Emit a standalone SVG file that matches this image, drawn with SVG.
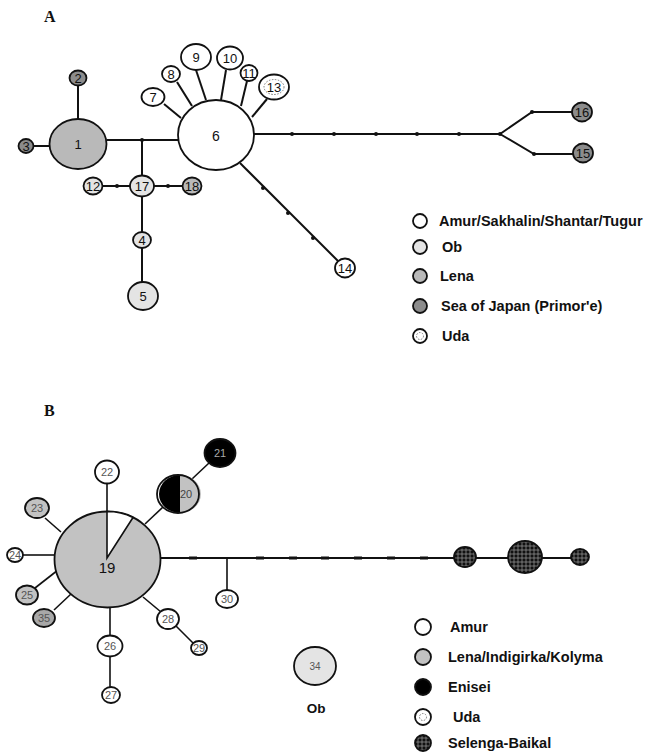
<svg xmlns="http://www.w3.org/2000/svg" width="650" height="755" viewBox="0 0 650 755">
<style>
.ln{stroke:#111;stroke-width:2;fill:none}
.lt{stroke:#111;stroke-width:1.6;fill:none}
.nd{stroke:#111;stroke-width:1.8}
.w{fill:#fff}.ob{fill:#e4e4e4}.le{fill:#b9b9b9}.sj{fill:#8c8c8c}.lb{fill:#c2c2c2}.bk{fill:#000}
.sb{fill:url(#chk)}
.t{font-family:"Liberation Sans",Arial,sans-serif;font-size:13px;fill:#111;text-anchor:middle}
.ts{font-family:"Liberation Sans",Arial,sans-serif;font-size:11px;fill:#555;text-anchor:middle}
.lg{font-family:"Liberation Sans",Arial,sans-serif;font-size:14.5px;font-weight:bold;fill:#111}
.pl{font-family:"Liberation Serif","Times New Roman",serif;font-size:16px;font-weight:bold;fill:#111}
.dot{fill:#111}
.udo{fill:none;stroke:#777;stroke-width:1;stroke-dasharray:1.5 1.5}
</style>
<defs>
<pattern id="chk" width="4" height="4" patternUnits="userSpaceOnUse">
<rect width="4" height="4" fill="#111"/>
<path d="M0 2H4M2 0V4" stroke="#9a9a9a" stroke-width="0.7"/>
</pattern>
</defs>
<text class="pl" x="44" y="22">A</text>
<text class="pl" x="44" y="416">B</text>
<g id="connectors">
<line class="ln" x1="78" y1="85" x2="78" y2="119"/>
<line class="ln" x1="33" y1="146" x2="50" y2="146"/>
<line class="ln" x1="107" y1="140" x2="178" y2="140"/>
<line class="ln" x1="142" y1="140" x2="142" y2="176"/>
<line class="ln" x1="102" y1="186" x2="130" y2="186"/>
<line class="ln" x1="154" y1="186" x2="183" y2="186"/>
<line class="ln" x1="142" y1="197" x2="142" y2="232"/>
<line class="ln" x1="142" y1="248" x2="142" y2="282"/>
<line class="ln" x1="164" y1="104" x2="181" y2="118"/>
<line class="ln" x1="177" y1="82" x2="192" y2="106"/>
<line class="ln" x1="196" y1="70" x2="206" y2="100"/>
<line class="ln" x1="226" y1="70" x2="221" y2="100"/>
<line class="ln" x1="247" y1="81" x2="241" y2="106"/>
<line class="ln" x1="267" y1="99" x2="252" y2="117"/>
<polyline class="ln" points="254,134 500,134 532,112 572,112"/>
<polyline class="ln" points="500,134 534,154 573,154"/>
<line class="ln" x1="240" y1="163" x2="338" y2="261"/>
<circle class="dot" cx="142" cy="140" r="2"/>
<circle class="dot" cx="117" cy="186" r="2"/>
<circle class="dot" cx="168" cy="186" r="2"/>
<circle class="dot" cx="292" cy="134" r="2"/>
<circle class="dot" cx="334" cy="134" r="2"/>
<circle class="dot" cx="376" cy="134" r="2"/>
<circle class="dot" cx="417" cy="134" r="2"/>
<circle class="dot" cx="459" cy="134" r="2"/>
<circle class="dot" cx="500" cy="134" r="2"/>
<circle class="dot" cx="532" cy="112" r="2"/>
<circle class="dot" cx="534" cy="154" r="2"/>
<circle class="dot" cx="263" cy="188" r="2"/>
<circle class="dot" cx="288" cy="213" r="2"/>
<circle class="dot" cx="313" cy="238" r="2"/>
<line class="lt" x1="107" y1="484" x2="107" y2="512"/>
<line class="lt" x1="145" y1="524" x2="163" y2="507"/>
<line class="lt" x1="192" y1="479" x2="209" y2="463"/>
<line class="lt" x1="45" y1="518" x2="61" y2="532"/>
<line class="lt" x1="23" y1="555" x2="55" y2="555"/>
<line class="lt" x1="35" y1="588" x2="58" y2="570"/>
<line class="lt" x1="54" y1="610" x2="71" y2="594"/>
<line class="lt" x1="110" y1="607" x2="110" y2="636"/>
<line class="lt" x1="110" y1="656" x2="110" y2="687"/>
<line class="lt" x1="143" y1="597" x2="161" y2="612"/>
<line class="lt" x1="176" y1="626" x2="193" y2="643"/>
<line class="ln" x1="160" y1="558" x2="571" y2="558"/>
<line class="lt" x1="227" y1="558" x2="227" y2="590"/>
<rect class="dot" x="189" y="556.5" width="8" height="3"/>
<rect class="dot" x="256" y="556.5" width="8" height="3"/>
<rect class="dot" x="289" y="556.5" width="8" height="3"/>
<rect class="dot" x="321" y="556.5" width="8" height="3"/>
<rect class="dot" x="354" y="556.5" width="8" height="3"/>
<rect class="dot" x="387" y="556.5" width="8" height="3"/>
<rect class="dot" x="420" y="556.5" width="8" height="3"/>
</g>
<g id="n1"><ellipse class="nd le" cx="78" cy="144" rx="28.5" ry="25"/><text class="t" x="78" y="149">1</text></g>
<g id="n2"><ellipse class="nd sj" cx="78" cy="78" rx="8.5" ry="7.5"/><text class="t" x="78" y="83">2</text></g>
<g id="n3"><ellipse class="nd sj" cx="26" cy="146" rx="7.5" ry="7"/><text class="t" x="26" y="151">3</text></g>
<g id="n6"><ellipse class="nd w" cx="216" cy="135" rx="38" ry="35"/><text class="t" x="216" y="141" style="font-size:14px">6</text></g>
<g id="n7"><ellipse class="nd w" cx="153" cy="97" rx="11.5" ry="9"/><text class="t" x="153" y="102">7</text></g>
<g id="n8"><ellipse class="nd w" cx="171" cy="74" rx="9" ry="8"/><text class="t" x="171" y="79">8</text></g>
<g id="n9"><ellipse class="nd w" cx="196" cy="57" rx="15" ry="13"/><text class="t" x="196" y="62">9</text></g>
<g id="n10"><ellipse class="nd w" cx="230" cy="58" rx="13" ry="11.5"/><text class="t" x="230" y="63">10</text></g>
<g id="n11"><ellipse class="nd w" cx="249" cy="73" rx="8.5" ry="8"/><text class="t" x="249" y="78">11</text></g>
<g id="n13"><ellipse class="nd w" cx="274" cy="87" rx="15" ry="12.5"/><ellipse class="udo" cx="274" cy="87" rx="10" ry="7.5"/><text class="t" x="274" y="92">13</text></g>
<g id="n17"><ellipse class="nd ob" cx="142" cy="186" rx="12" ry="10.5"/><text class="t" x="142" y="191">17</text></g>
<g id="n12"><ellipse class="nd ob" cx="93" cy="186" rx="9.5" ry="8.5"/><text class="t" x="93" y="191">12</text></g>
<g id="n18"><ellipse class="nd le" cx="192" cy="186" rx="9.5" ry="8.5"/><text class="t" x="192" y="191">18</text></g>
<g id="n4"><ellipse class="nd ob" cx="142" cy="240" rx="9" ry="8"/><text class="t" x="142" y="245">4</text></g>
<g id="n5"><ellipse class="nd ob" cx="143" cy="296" rx="15" ry="14"/><text class="t" x="143" y="301">5</text></g>
<g id="n14"><ellipse class="nd w" cx="345" cy="268" rx="10" ry="9.5"/><text class="t" x="345" y="273">14</text></g>
<g id="n16"><ellipse class="nd sj" cx="582" cy="112" rx="10" ry="9.5"/><text class="t" x="582" y="117">16</text></g>
<g id="n15"><ellipse class="nd sj" cx="583" cy="153" rx="10" ry="9.5"/><text class="t" x="583" y="158">15</text></g>
<g id="legendA">
<circle class="nd w" cx="420" cy="221" r="7"/><text class="lg" x="439" y="226">Amur/Sakhalin/Shantar/Tugur</text>
<circle class="nd ob" cx="420" cy="247" r="7"/><text class="lg" x="442" y="252">Ob</text>
<circle class="nd le" cx="420" cy="276" r="7"/><text class="lg" x="440" y="281">Lena</text>
<circle class="nd sj" cx="420" cy="306" r="7"/><text class="lg" x="441" y="311">Sea of Japan (Primor'e)</text>
<circle class="nd w" cx="420" cy="336" r="7"/><circle class="udo" cx="420" cy="336" r="3.5"/><text class="lg" x="442" y="341">Uda</text>
</g>
<g id="n19"><ellipse class="nd lb" cx="107.5" cy="559.5" rx="53" ry="48"/><path d="M107 558 L107 511.5 A53 48 0 0 1 133 517.5 Z" fill="#fff" stroke="#111" stroke-width="1.6"/><text class="t" x="107" y="573" style="font-size:15px">19</text></g>
<g id="n20"><path d="M180 475 A21 19 0 0 0 180 513 Z" fill="#000"/><path d="M180 475 A21 19 0 0 1 180 513 Z" class="lb"/><ellipse class="nd" fill="none" cx="178" cy="494" rx="21" ry="19"/><text class="ts" x="186" y="498" style="fill:#444">20</text></g>
<g id="n21"><ellipse class="nd bk" cx="220" cy="453" rx="15.5" ry="14"/><text class="ts" x="220" y="457" style="fill:#aaa">21</text></g>
<g id="n22"><ellipse class="nd w" cx="107" cy="472" rx="12" ry="11.5"/><text class="ts" x="107" y="476">22</text></g>
<g id="n23"><ellipse class="nd lb" cx="37" cy="508" rx="12" ry="10"/><text class="ts" x="37" y="512">23</text></g>
<g id="n24"><ellipse class="nd w" cx="15" cy="555" rx="8" ry="7"/><text class="ts" x="15" y="559">24</text></g>
<g id="n25"><ellipse class="nd lb" cx="27" cy="595" rx="11" ry="9.5"/><text class="ts" x="27" y="599">25</text></g>
<g id="n35"><ellipse class="nd" fill="#a8a8a8" cx="44" cy="618" rx="11" ry="9"/><text class="ts" x="44" y="622">35</text></g>
<g id="n26"><ellipse class="nd w" cx="110" cy="646" rx="12.5" ry="10.5"/><text class="ts" x="110" y="650">26</text></g>
<g id="n27"><ellipse class="nd w" cx="111" cy="695" rx="9" ry="8"/><text class="ts" x="111" y="699">27</text></g>
<g id="n28"><ellipse class="nd w" cx="168" cy="619" rx="11" ry="10"/><text class="ts" x="168" y="623">28</text></g>
<g id="n29"><ellipse class="nd w" cx="199" cy="648" rx="8" ry="7"/><text class="ts" x="199" y="652">29</text></g>
<g id="n30"><ellipse class="nd w" cx="227" cy="599" rx="11" ry="9"/><text class="ts" x="227" y="603">30</text></g>
<g id="n31"><ellipse class="nd sb" cx="465" cy="557" rx="11" ry="10"/></g>
<g id="n32"><ellipse class="nd sb" cx="525" cy="557" rx="17" ry="16"/></g>
<g id="n33"><ellipse class="nd sb" cx="580" cy="557" rx="9" ry="8"/></g>
<g id="n34"><ellipse class="nd ob" cx="315" cy="666" rx="21" ry="19"/><text class="ts" x="315" y="670" style="font-size:10px">34</text><text class="lg" x="316" y="713" text-anchor="middle" style="font-size:13.5px">Ob</text></g>
<g id="legendB">
<circle class="nd w" cx="423" cy="627" r="8"/><text class="lg" x="450" y="632">Amur</text>
<circle class="nd lb" cx="423" cy="657" r="8"/><text class="lg" x="448" y="662">Lena/Indigirka/Kolyma</text>
<circle class="nd bk" cx="423" cy="687" r="8"/><text class="lg" x="448" y="692">Enisei</text>
<circle class="nd w" cx="423" cy="717" r="8"/><circle class="udo" cx="423" cy="717" r="3.5"/><text class="lg" x="453" y="722">Uda</text>
<circle class="nd sb" cx="423" cy="743" r="8"/><text class="lg" x="448" y="748">Selenga-Baikal</text>
</g>
</svg>
